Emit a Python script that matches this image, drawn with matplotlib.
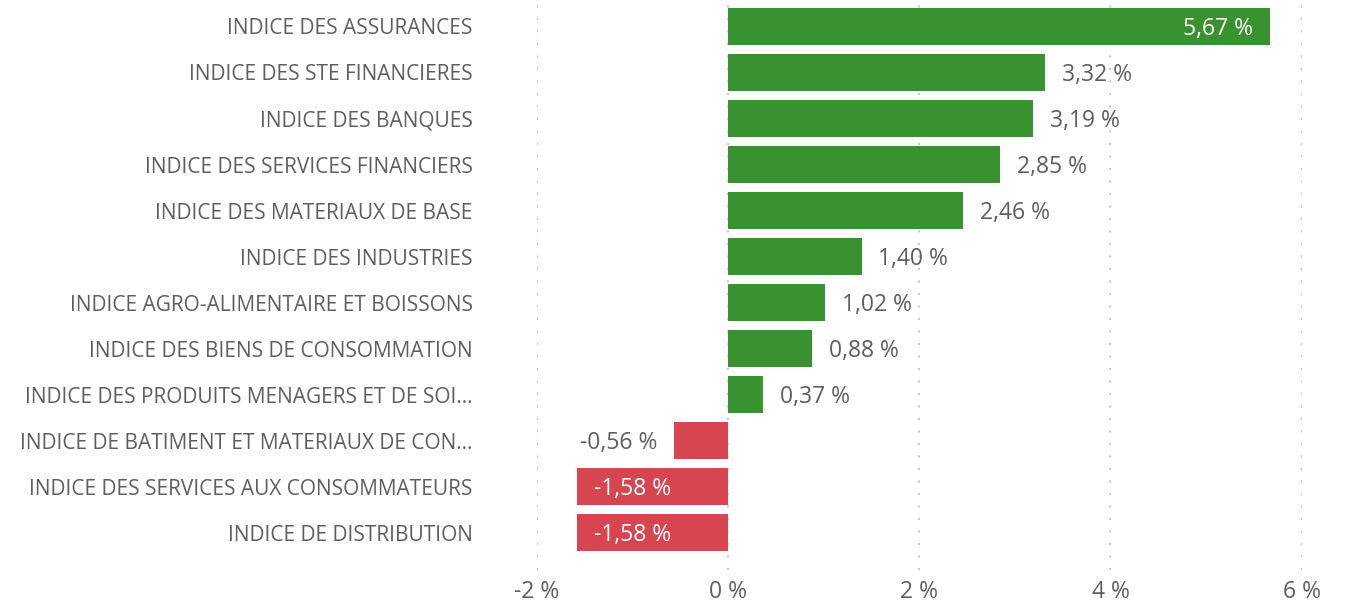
import matplotlib.pyplot as plt
from matplotlib.ticker import FuncFormatter

plt.rcParams['font.family'] = ['Open Sans', 'DejaVu Sans']

categories = [
    'INDICE DES ASSURANCES',
    'INDICE DES STE FINANCIERES',
    'INDICE DES BANQUES',
    'INDICE DES SERVICES FINANCIERS',
    'INDICE DES MATERIAUX DE BASE',
    'INDICE DES INDUSTRIES',
    'INDICE AGRO-ALIMENTAIRE ET BOISSONS',
    'INDICE DES BIENS DE CONSOMMATION',
    'INDICE DES PRODUITS MENAGERS ET DE SOI...',
    'INDICE DE BATIMENT ET MATERIAUX DE CON...',
    'INDICE DES SERVICES AUX CONSOMMATEURS',
    'INDICE DE DISTRIBUTION',
]
values = [5.67, 3.32, 3.19, 2.85, 2.46, 1.40, 1.02, 0.88, 0.37, -0.56, -1.58, -1.58]
# labels that sit inside the bar (white text)
inside = [True, False, False, False, False, False, False, False, False, False, True, True]

GREEN = '#38922f'
RED = '#d64550'
GREY = '#605e5c'


def fr_pct(v):
    return f'{v:.2f} %'.replace('.', ',')


fig = plt.figure(figsize=(13.5, 6.02), dpi=100)
ax = fig.add_axes([536.7 / 1350, 1 - 570 / 602, (1301.7 - 536.7) / 1350, 570 / 602])

ypos = list(range(len(categories)))
colors = [GREEN if v >= 0 else RED for v in values]
ax.barh(ypos, values, height=0.8, color=colors, zorder=3)

for y, v, ins in zip(ypos, values, inside):
    txt = fr_pct(v)
    if ins:
        off = -12 if v >= 0 else 12
        ha = 'right' if v >= 0 else 'left'
        col = 'white'
    else:
        off = 12 if v >= 0 else -12
        ha = 'left' if v >= 0 else 'right'
        col = GREY
    ax.annotate(txt, (v, y), xytext=(off, -1.5), textcoords='offset points',
                ha=ha, va='center', fontsize=16.5, color=col, zorder=4)

ax.set_xlim(-2, 6)
ax.set_ylim(11.815, -0.576)
ax.set_xticks([-2, 0, 2, 4, 6])
ax.xaxis.set_major_formatter(FuncFormatter(lambda x, p: f'{x:.0f} %'))
ax.set_yticks(ypos)
ax.set_yticklabels(categories, va='center_baseline')
ax.grid(axis='x', color='#c8c8c8', linestyle=(0, (1, 5)), linewidth=1.5, zorder=0)
ax.tick_params(axis='y', length=0, pad=46, labelsize=15, labelcolor=GREY)
ax.tick_params(axis='x', length=0, pad=7, labelsize=16.5, labelcolor=GREY)
for s in ax.spines.values():
    s.set_visible(False)

fig.savefig('out.png', dpi=100)
